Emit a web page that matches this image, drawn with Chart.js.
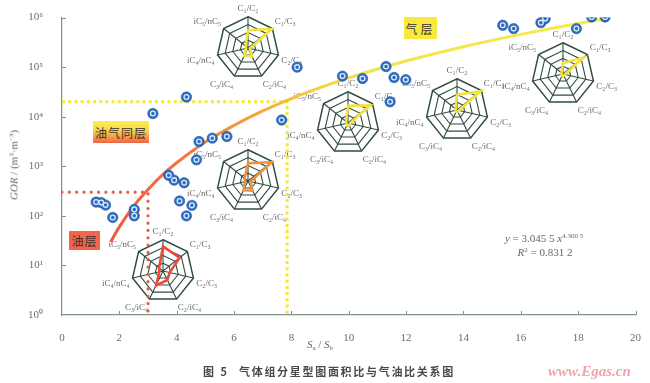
<!DOCTYPE html>
<html><head><meta charset="utf-8">
<script src="https://cdn.jsdelivr.net/npm/chart.js@4.4.1/dist/chart.umd.min.js"></script>
<style>
html,body{margin:0;padding:0;background:#fff;}
#wrap{position:relative;width:650px;height:383px;overflow:hidden;background:#fff;}
#main{position:absolute;left:0;top:0;z-index:2;}
.radar{position:absolute;z-index:1;}
.ov{position:absolute;white-space:nowrap;z-index:3;line-height:1;}
.serif{font-family:"Liberation Serif","DejaVu Serif",serif;color:#666;font-size:11px;}
.sup{font-size:7px;position:relative;top:-4px;}
.sub{font-size:7px;position:relative;top:2px;}
.box{position:absolute;z-index:3;font-family:"Noto Sans CJK SC",sans-serif;font-size:12px;color:#3a302a;display:flex;align-items:center;justify-content:center;letter-spacing:1px;}
</style></head>
<body><div id="wrap">
<canvas id="main" width="650" height="383" style="width:650px;height:383px"></canvas>

<div class="ov serif" style="left:14px;top:165px;transform:translate(-50%,-50%) rotate(-90deg);"><i>GOR</i> / (m<span class="sup">3</span>·m<span class="sup">−3</span>)</div>
<div class="ov serif" style="left:320px;top:344px;transform:translate(-50%,-50%);"><i>S</i><span class="sub">a</span> / <i>S</i><span class="sub">b</span></div>
<div class="ov serif" style="left:544px;top:238px;transform:translate(-50%,-50%);"><i>y</i> = 3.045 5 <i>x</i><span class="sup">4.300 5</span></div>
<div class="ov serif" style="left:545px;top:252px;transform:translate(-50%,-50%);"><i>R</i><span class="sup">2</span> = 0.831 2</div>

<div class="box" style="left:69px;top:231px;width:31px;height:19px;background:#f26548;">油层</div>
<div class="box" style="left:93px;top:121px;width:56px;height:22px;background:linear-gradient(to bottom,#f9f050 0%,#f8d84a 40%,#f4964a 75%,#f06242 100%);">油气同层</div>
<div class="box" style="left:404px;top:17px;width:33px;height:22px;background:#f7ea3c;letter-spacing:3px;">气层</div>

<div class="ov" style="left:203px;top:366px;font-family:'Noto Sans CJK SC',sans-serif;font-weight:bold;font-size:11px;color:#4a4a4a;letter-spacing:2px;">图 5</div>
<div class="ov" style="left:239px;top:366px;font-family:'Noto Sans CJK SC',sans-serif;font-weight:bold;font-size:11px;color:#4a4a4a;letter-spacing:1.7px;">气体组分星型图面积比与气油比关系图</div>
<div class="ov" style="left:548px;top:364px;font-family:'Liberation Serif',serif;font-style:italic;font-weight:bold;font-size:15px;color:#f2a4aa;">www.Egas.cn</div>
</div>
<script>
// ---------- data ----------
const xTicks = [0, 2, 4, 6, 8, 10, 12, 14, 16, 18, 20];
const yTickExp = [0, 1, 2, 3, 4, 5, 6];

const sampleX   = [1.19, 1.37, 1.52, 1.77, 2.52, 2.52, 3.17, 3.72, 3.91, 4.26, 4.10, 4.53, 4.34, 4.34, 4.69, 4.78, 5.24, 5.75, 7.66, 8.20, 9.78, 10.48, 11.30, 11.58, 11.99, 11.44, 15.37, 15.75, 16.70, 16.85, 17.94, 18.47, 18.94];
const sampleGOR = [190, 185, 165, 93, 135, 100, 11600, 660, 525, 465, 200, 163, 100, 25000, 1350, 3160, 3700, 4000, 8600, 100000, 66000, 59000, 103000, 62000, 56000, 20000, 700000, 600000, 790000, 955000, 600000, 1030000, 1030000];

const fitX   = [1.7, 2, 2.5, 3, 3.5, 4, 5, 6, 7, 8, 9, 10, 12, 14, 16, 18, 19];
const fitGOR = [30, 60, 157, 340, 670, 1180, 3100, 6700, 13100, 23300, 38700, 61000, 133000, 259000, 459000, 763000, 962000];

const oilLineX   = [0, 3, 3];
const oilLineGOR = [300, 300, 1];
const gasLineX   = [0, 7.85, 7.85];
const gasLineGOR = [20000, 20000, 1];

const radarLabels = ['C₁/C₂', 'C₁/C₃', 'C₂/C₃', 'C₂/iC₄', 'C₃/iC₄', 'iC₄/nC₄', 'iC₅/nC₅'];
const radarGasTop   = [0.57, 0.98, 0.06, 0.30, 0.28, 0.06, 0.10];
const radarMixed    = [0.57, 0.97, 0.08, 0.34, 0.33, 0.10, 0.14];
const radarOil      = [0.79, 0.68, 0.22, 0.32, 0.51, 0.12, 0.16];
const radarGasMid1  = [0.55, 0.91, 0.06, 0.08, 0.08, 0.05, 0.08];
const radarGasMid2  = [0.49, 0.97, 0.06, 0.06, 0.06, 0.04, 0.06];
const radarGasRight = [0.35, 0.83, 0.06, 0.06, 0.06, 0.05, 0.06];

// ---------- styles ----------
const AXIS = '#7d9585';
const BLUE = '#2d6cc0';
const GRID = '#2f4d40';
const YEL = '#f3e23a', ORA = '#f0923c', RED = '#ee4a3c';
const SUP = {0:'⁰',1:'¹',2:'²',3:'³',4:'⁴',5:'⁵',6:'⁶'};

const pts = sampleX.map((x, i) => ({x: x, y: sampleGOR[i]}));
const fitPts = fitX.map((x, i) => ({x: x, y: fitGOR[i]}));
const oilPts = oilLineX.map((x, i) => ({x: x, y: oilLineGOR[i]}));
const gasPts = gasLineX.map((x, i) => ({x: x, y: gasLineGOR[i]}));

function fitColor(c) {
  const ch = c.chart;
  if (!ch.chartArea) return '#ef5842';
  const xs = ch.scales.x;
  const g = ch.ctx.createLinearGradient(xs.getPixelForValue(fitX[0]), 0, xs.getPixelForValue(fitX[fitX.length - 1]), 0);
  g.addColorStop(0, '#ef5842');
  g.addColorStop(0.14, '#f0753e');
  g.addColorStop(0.28, '#f4a03e');
  g.addColorStop(0.40, '#f5cc42');
  g.addColorStop(0.52, '#f4e34a');
  g.addColorStop(1, '#f6ec4e');
  return g;
}

const innerTicks = {
  id: 'innerTicks',
  afterDraw(chart) {
    const {ctx, scales, chartArea: a} = chart;
    ctx.save();
    ctx.strokeStyle = AXIS; ctx.lineWidth = 1;
    ctx.beginPath();
    xTicks.forEach(v => {
      if (v === 0) return;
      const px = Math.round(scales.x.getPixelForValue(v)) + 0.5;
      ctx.moveTo(px, a.bottom); ctx.lineTo(px, a.bottom - 4);
    });
    yTickExp.forEach(e => {
      if (e === 0) return;
      const py = Math.round(scales.y.getPixelForValue(Math.pow(10, e))) + 0.5;
      ctx.moveTo(a.left, py); ctx.lineTo(a.left + 4, py);
    });
    ctx.stroke();
    ctx.restore();
  }
};

new Chart(document.getElementById('main'), {
  type: 'scatter',
  data: {datasets: [
    {label: 'ring', data: pts, pointRadius: 2.4, pointBackgroundColor: BLUE, pointBorderColor: '#dce9f7', pointBorderWidth: 1.3, order: 0},
    {label: 'samples', data: pts, pointRadius: 5.2, pointBackgroundColor: BLUE, pointBorderColor: '#2458a6', pointBorderWidth: 0.6, order: 1},
    {type: 'line', label: 'fit', data: fitPts, borderColor: fitColor, borderWidth: 3, pointRadius: 0, cubicInterpolationMode: 'monotone', fill: false, order: 2},
    {type: 'line', label: 'oil', data: oilPts, borderColor: '#ec5a45', borderWidth: 3.2, borderDash: [0.01, 7.3], borderCapStyle: 'round', pointRadius: 0, fill: false, tension: 0, order: 3},
    {type: 'line', label: 'gas', data: gasPts, borderColor: '#f5e733', borderWidth: 3, borderDash: [3, 3.2], borderCapStyle: 'butt', pointRadius: 0, fill: false, tension: 0, order: 4}
  ]},
  options: {
    responsive: false, animation: false, devicePixelRatio: 1,
    layout: {padding: {left: 0, top: 15, right: 12, bottom: 38}},
    plugins: {legend: {display: false}, tooltip: {enabled: false}},
    scales: {
      x: {
        type: 'linear', min: 0, max: 20,
        afterBuildTicks: s => { s.ticks = xTicks.map(v => ({value: v})); },
        afterFit: s => { s.height = 30; },
        grid: {display: false},
        border: {display: true, color: AXIS, width: 1.2},
        ticks: {padding: 9, color: '#6b6b6b', font: {family: 'Liberation Serif', size: 11}, maxRotation: 0, autoSkip: false}
      },
      y: {
        type: 'logarithmic', min: 1, max: 1e6,
        afterBuildTicks: s => { s.ticks = yTickExp.map(e => ({value: Math.pow(10, e)})); },
        afterFit: s => { s.width = 62; },
        grid: {display: false},
        border: {display: true, color: AXIS, width: 1.2},
        ticks: {padding: 11, color: '#6b6b6b', font: {family: 'Liberation Serif', size: 11}, autoSkip: false,
          callback: v => '10' + SUP[Math.round(Math.log10(v))]}
      }
    }
  },
  plugins: [innerTicks]
});

// ---------- star (radar) insets ----------
const insets = [
  {values: radarGasTop,   color: YEL, cx: 248, cy: 48},
  {values: radarMixed,    color: ORA, cx: 248, cy: 181},
  {values: radarOil,      color: RED, cx: 163, cy: 271},
  {values: radarGasMid1,  color: YEL, cx: 348, cy: 123},
  {values: radarGasMid2,  color: YEL, cx: 457, cy: 110},
  {values: radarGasRight, color: YEL, cx: 563, cy: 74}
];
const wrap = document.getElementById('wrap');
insets.forEach(d => {
  const div = document.createElement('div');
  div.className = 'radar';
  const cv = document.createElement('canvas');
  cv.width = 170; cv.height = 90;
  cv.style.width = '170px'; cv.style.height = '90px';
  div.appendChild(cv);
  wrap.appendChild(div);
  const ch = new Chart(cv, {
    type: 'radar',
    data: {labels: radarLabels, datasets: [{data: d.values, borderColor: d.color, borderWidth: 2.6, backgroundColor: 'rgba(0,0,0,0)', fill: false, pointRadius: 0, tension: 0, borderJoinStyle: 'miter'}]},
    options: {
      responsive: false, animation: false, devicePixelRatio: 1,
      layout: {padding: 0},
      plugins: {legend: {display: false}, tooltip: {enabled: false}},
      scales: {r: {
        min: 0, max: 1,
        ticks: {display: false, stepSize: 0.25},
        grid: {color: GRID, lineWidth: c => (c.index === 4 ? 1.5 : 1.1)},
        angleLines: {color: GRID, lineWidth: 1.1},
        pointLabels: {font: {family: 'Liberation Serif', size: 9}, color: '#666', padding: 3}
      }}
    }
  });
  const r = ch.scales.r;
  div.style.left = (d.cx - r.xCenter) + 'px';
  div.style.top = (d.cy - r.yCenter) + 'px';
});
</script>
</body></html>
